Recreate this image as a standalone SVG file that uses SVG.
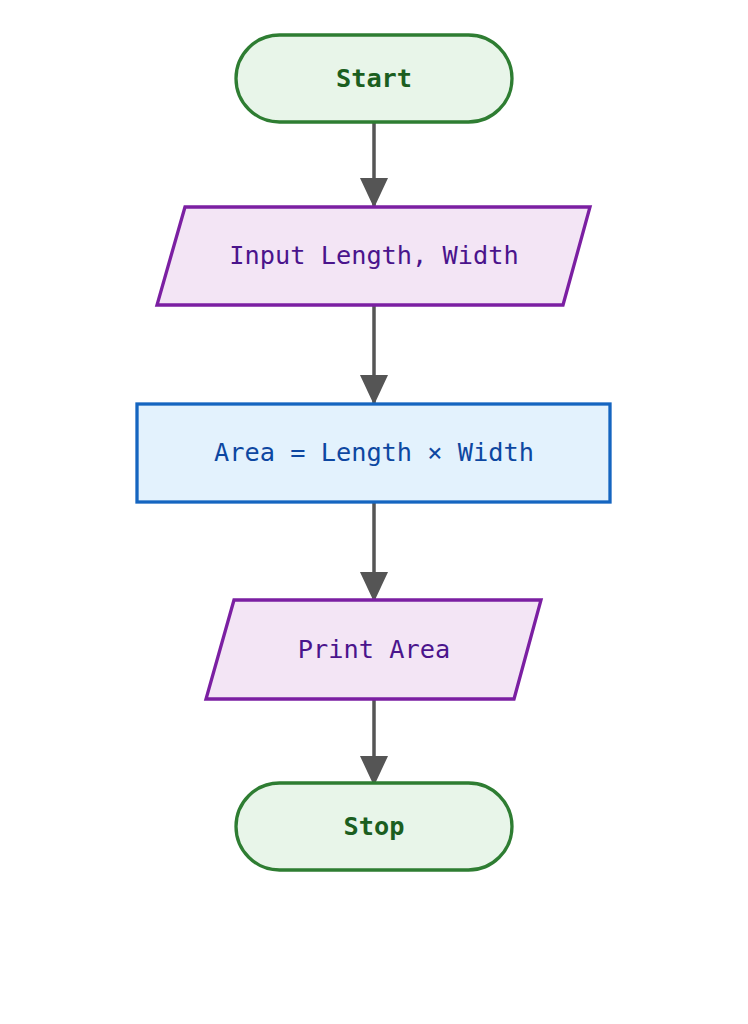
<svg xmlns="http://www.w3.org/2000/svg" width="748" height="1024" viewBox="0 0 748 1024">
<style>
.term{fill:#e8f5e9;stroke:#2e7d32;stroke-width:3.3}
.io{fill:#f3e5f5;stroke:#7b1fa2;stroke-width:3.3}
.proc{fill:#e3f2fd;stroke:#1565c0;stroke-width:3.3}
text{font-family:"DejaVu Sans Mono","Liberation Mono",monospace;font-size:25.3px;text-anchor:middle}
.tt{fill:#1b5e20;font-weight:bold}
.it{fill:#4a148c}
.pt{fill:#0d47a1}
.edge{stroke:#555;stroke-width:3.5;fill:none;marker-end:url(#ah)}
</style>
<defs>
<marker id="ah" viewBox="0 0 30 28" refX="30" refY="14" markerWidth="30" markerHeight="28" markerUnits="userSpaceOnUse" orient="auto">
<path d="M0,0 L30,14 L0,28 z" fill="#555"/>
</marker>
</defs>
<rect width="748" height="1024" fill="#fff"/>
<g id="connectors">
<line class="edge" x1="374" y1="122" x2="374" y2="208"/>
<line class="edge" x1="374" y1="305" x2="374" y2="405"/>
<line class="edge" x1="374" y1="502" x2="374" y2="602"/>
<line class="edge" x1="374" y1="699" x2="374" y2="786"/>
</g>
<g id="start">
<rect class="term" x="236" y="35" width="276" height="87" rx="43.5"/>
<text class="tt" x="374" y="87">Start</text>
</g>
<g id="input">
<polygon class="io" points="185,207 590,207 563,305 157,305"/>
<text class="it" x="374" y="264">Input Length, Width</text>
</g>
<g id="process">
<rect class="proc" x="137" y="404" width="473" height="98"/>
<text class="pt" x="374" y="461">Area = Length × Width</text>
</g>
<g id="print">
<polygon class="io" points="234,600 541,600 514,699 206,699"/>
<text class="it" x="374" y="658">Print Area</text>
</g>
<g id="stop">
<rect class="term" x="236" y="783" width="276" height="87" rx="43.5"/>
<text class="tt" x="374" y="835">Stop</text>
</g>
</svg>
